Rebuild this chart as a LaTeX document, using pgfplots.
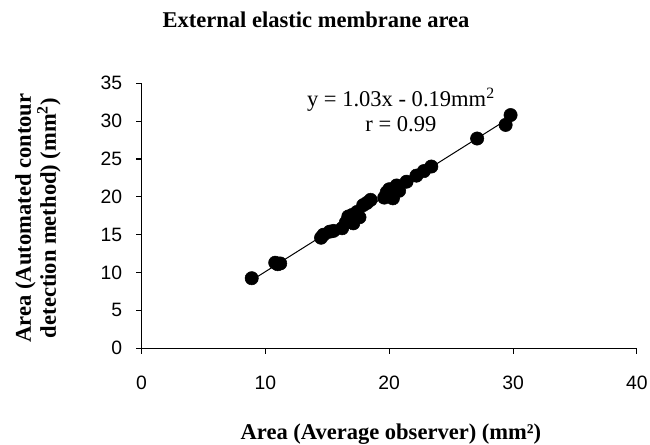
\documentclass[border=0pt]{standalone}
\usepackage{fontspec}
\setmainfont{Liberation Serif}
\newfontfamily\arialfont{Liberation Sans}
\usepackage{pgfplots}
\pgfplotsset{compat=1.18}
\begin{document}
\begin{tikzpicture}
\begin{axis}[
  at={(0pt,0pt)}, anchor=south west,
  scale only axis,
  width=371.6pt, height=198.75pt,
  xmin=0, xmax=40, ymin=0, ymax=35,
  xtick={0,10,20,30,40}, ytick={0,5,10,15,20,25,30,35},
  axis lines=left,
  axis line style={-, line width=1pt},
  tick align=outside,
  major tick length=4pt,
  tick style={line width=0.8pt, black},
  /pgf/number format/assume math mode=true,
  ticklabel style={font=\arialfont\fontsize{14.5}{16}\selectfont},
  xticklabel shift=13pt,
  yticklabel shift=7pt,
  clip=false,
]
\addplot[black, line width=0.75pt] coordinates {(8.9,8.98) (30.0,30.71)};
\addplot[only marks, mark=*, mark size=5pt, black, mark options={fill=black}] coordinates {
(8.9,9.25)
(10.8,11.3) (11.0,11.1) (11.2,11.2)
(14.5,14.6) (14.7,15.0) (15.2,15.4) (15.5,15.5) (16.2,15.85)
(16.5,16.6) (16.7,17.4) (17.1,16.5) (17.0,17.6) (17.4,18.0) (17.6,17.3)
(17.9,18.9) (18.2,19.2) (18.5,19.6)
(19.6,19.9) (19.8,20.6) (20.0,21.0) (20.3,19.8) (20.6,21.5) (20.8,20.8)
(21.4,22.0) (22.2,22.8) (22.8,23.4) (23.4,24.0)
(27.1,27.7) (29.4,29.5) (29.8,30.8)
};
\end{axis}
\node[anchor=base, inner sep=0pt, font=\bfseries\fontsize{16.9}{19}\selectfont] at (130.9pt,240.2pt) {External elastic membrane area};
\node[anchor=base, inner sep=0pt, font=\fontsize{16.9}{19}\selectfont] at (194.6pt,181pt) {y = 1.03x - 0.19mm\textsuperscript{2}};
\node[anchor=base, inner sep=0pt, font=\fontsize{16.9}{19}\selectfont] at (194.6pt,162.2pt) {r = 0.99};
\node[anchor=base, inner sep=0pt, font=\bfseries\fontsize{16.9}{19}\selectfont] at (187.1pt,-68.8pt) {Area (Average observer) (mm²)};
\node[rotate=90, align=center, inner sep=0pt, font=\bfseries\fontsize{16.9}{17}\selectfont] at (-77.6pt,97.7pt) {Area (Automated contour\\detection method) (mm\textsuperscript{2})};
\pgfresetboundingbox
\path (-106.1pt,-72.5pt) rectangle (381.4pt,261.2pt);
\end{tikzpicture}
\end{document}
